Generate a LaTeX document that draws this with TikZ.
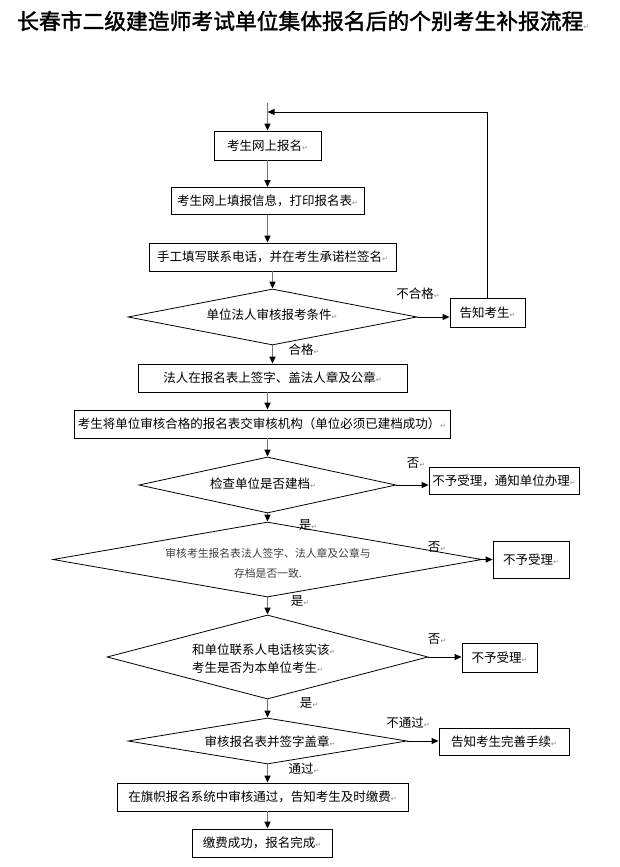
\documentclass[tikz,border=0pt]{standalone}
\usepackage{fontspec}
\usepackage{graphicx}
\setmainfont{Noto Sans CJK SC}
\newfontfamily\titlefont{Noto Sans CJK SC}[FakeBold=1.6]
\newfontfamily\dejavu{DejaVu Sans}
\usetikzlibrary{shapes.geometric,arrows.meta}
\newcommand\pmk{{\dejavu\fontsize{7}{7}\selectfont\color{black!45}↵}}
\tikzset{
  box/.style={draw=black, line width=0.8pt, rectangle, inner sep=0pt, font=\fontsize{12.5}{15}\selectfont},
  dia/.style={draw=black, diamond, inner sep=0pt, line width=0.8pt},
  txt/.style={inner sep=0pt, font=\fontsize{12.5}{18}\selectfont},
  lbl/.style={inner sep=0pt, font=\fontsize{12.5}{15}\selectfont},
  varr/.style={draw=black!55, line width=1.5pt, -{Triangle[length=7pt,width=6pt,color=black]}},
  harr/.style={draw=black, line width=0.9pt, -{Triangle[length=7pt,width=6pt]}},
  fline/.style={draw=black, line width=0.9pt, -{Triangle[length=7pt,width=6pt]}}
}
\begin{document}
\begin{tikzpicture}[x=1pt,y=-1pt]
\fill[white] (0,0) rectangle (620,867);
\useasboundingbox (0,0) rectangle (620,867);

% title
\node[anchor=west, inner sep=0pt] (title) at (17,21) {\resizebox{572pt}{!}{\titlefont\fontsize{22}{24}\selectfont 长春市二级建造师考试单位集体报名后的个别考生补报流程\pmk}};

% main boxes
\node[box, minimum width=107, minimum height=29] (b1) at (267.5,145.5) {考生网上报名\pmk};
\node[box, minimum width=193, minimum height=27] (b2) at (267.5,201) {考生网上填报信息，打印报名表\pmk};
\node[box, minimum width=247, minimum height=28] (b3) at (272.5,257) {手工填写联系电话，并在考生承诺栏签名\pmk};
\node[dia, minimum width=289, minimum height=56] (d1) at (272.5,317) {};
\node[txt] (t1) at (272,315) {单位法人审核报考条件\pmk};
\node[box, minimum width=269, minimum height=28] (b4) at (272.5,378) {法人在报名表上签字、盖法人章及公章\pmk};
\node[box, minimum width=376, minimum height=28] (b5) at (262,424) {考生将单位审核合格的报名表交审核机构（单位必须已建档成功）\pmk};
\node[dia, minimum width=257, minimum height=56] (d2) at (267.5,485) {};
\node[txt] (t2) at (263,484) {检查单位是否建档\pmk};
\node[dia, minimum width=429, minimum height=75] (d3) at (267.5,559.5) {};
\node[inner sep=0pt, align=center, text=black!75, font=\fontsize{10.8}{20}\selectfont] (t3) at (268,563) {审核考生报名表法人签字、法人章及公章与\\存档是否一致.};
\node[dia, minimum width=321, minimum height=84] (d4) at (267.5,657) {};
\node[txt, align=left, anchor=west] (t4) at (192,659) {和单位联系人电话核实该\pmk\\考生是否为本单位考生\pmk};
\node[dia, minimum width=279, minimum height=46] (d5) at (267.5,741) {};
\node[txt] (t5) at (270,742) {审核报名表并签字盖章\pmk};
\node[box, minimum width=291, minimum height=28] (b6) at (262.5,797) {在旗帜报名系统中审核通过，告知考生及时缴费\pmk};
\node[box, minimum width=140, minimum height=28] (b7) at (262,843) {缴费成功，报名完成\pmk};

% right boxes
\node[box, minimum width=75, minimum height=29] (r1) at (487.5,312.5) {告知考生\pmk};
\node[box, minimum width=150, minimum height=27] (r2) at (504,480.5) {不予受理，通知单位办理\pmk};
\node[box, minimum width=76, minimum height=37] (r3) at (531,559.5) {不予受理\pmk};
\node[box, minimum width=75, minimum height=29] (r4) at (499.5,657.5) {不予受理\pmk};
\node[box, minimum width=130, minimum height=27] (r5) at (504,741.5) {告知考生完善手续\pmk};

% labels
\node[lbl] (l1) at (418,294) {不合格\pmk};
\node[lbl] (l2) at (304,350) {合格\pmk};
\node[lbl] (l3) at (416,463) {否\pmk};
\node[lbl] (l4) at (308,525) {是\pmk};
\node[lbl] (l5) at (437,547) {否\pmk};
\node[lbl] (l6) at (300,601) {是\pmk};
\node[lbl] (l7) at (437,639) {否\pmk};
\node[lbl] (l8) at (309,703) {是\pmk};
\node[lbl] (l9) at (408,723) {不通过\pmk};
\node[lbl] (l10) at (304,769) {通过\pmk};

% connectors
\coordinate (start) at (267.5,103);
\coordinate (fb) at (267.5,112);
\draw[varr] (start) -- (b1.north);
\draw[varr] (b1.south) -- (b2.north);
\draw[varr] (b2.south) -- (b2.south |- b3.north);
\draw[varr] (b3.south) -- (d1.north);
\draw[varr] (d1.south) -- (b4.north);
\draw[varr] (b4.south -| d2.north) -- (b5.north -| d2.north);
\draw[varr] (b5.south -| d2.north) -- (d2.north);
\draw[varr] (d2.south) -- (d3.north);
\draw[varr] (d3.south) -- (d4.north);
\draw[varr] (d4.south) -- (d5.north);
\draw[varr] (d5.south) -- (d5.south |- b6.north);
\draw[varr] (b6.south -| d5.south) -- (b7.north -| d5.south);

\draw[harr] (d1.east) -- (d1.east -| r1.west);
\draw[harr] (d2.east) -- (d2.east -| r2.west);
\draw[harr] (d3.east) -- (d3.east -| r3.west);
\draw[harr] (d4.east) -- (d4.east -| r4.west);
\draw[harr] (d5.east) -- (d5.east -| r5.west);
\draw[fline] (r1.north) |- (fb);
\end{tikzpicture}
\end{document}
